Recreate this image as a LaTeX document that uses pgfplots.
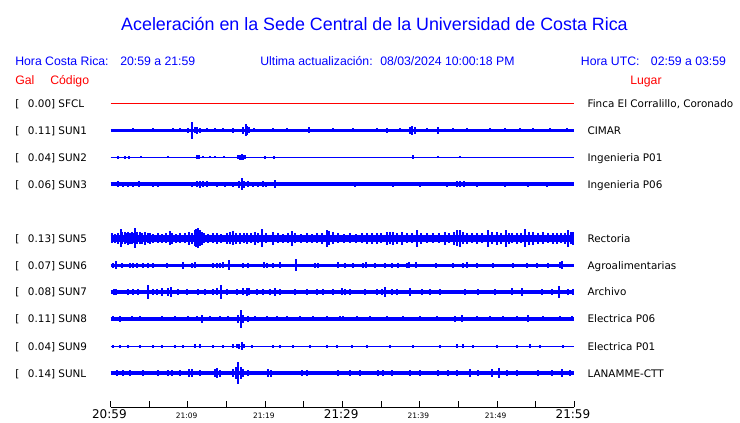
\documentclass[border=0pt]{standalone}
\usepackage{pgfplots}
\pgfplotsset{compat=1.18}
\usepackage{fontspec}
\setmainfont{Liberation Sans}
\newfontfamily\dejavu{DejaVu Sans}
\definecolor{tblue}{RGB}{0,0,255}
\definecolor{tred}{RGB}{255,0,0}
\pgfplotsset{
  spk/.style n args={2}{draw=none, error bars/.cd, y dir=both, y explicit, error mark=none,
     error bar style={draw=tblue, line width=#2}},
}
\newcommand{\hdr}{\fontsize{9.2}{10}\selectfont}
\newcommand{\stn}{\dejavu\fontsize{7.8}{9}\selectfont}
\begin{document}
\begin{tikzpicture}
\useasboundingbox (0,0) rectangle (555pt,-317.25pt);
% ---------------- traces ----------------
\begin{axis}[at={(83.025pt,-67.5pt)}, anchor=north west, scale only axis,
  width=347.7pt, height=237.75pt, xmin=0, xmax=60, ymin=90, ymax=407,
  y dir=reverse, hide axis, clip=false]
% SFCL
\addplot[tred, line width=0.75pt] coordinates {(0,103.3) (60,103.3)};
% SUN1
\addplot[tblue, line width=2.25pt] coordinates {(0,130.3) (60,130.3)};
\addplot[spk={}{1.5pt}] table[x=t, y expr=130.3, y error=e] {
t e
2.93 2
5.52 2
8.02 2
8.97 2
10.05 2.5
10.57 8.5
10.91 3
11.21 3.5
11.56 2.5
12.42 2
13.5 2
14.58 2
15.79 2.5
17.17 3.5
17.47 5.8
17.68 4.5
17.94 3
18.59 2
21.05 2
22.77 2
25.7 3
28.8 2
31.4 2
34.42 2
35.71 2.5
37.44 2
38.73 3.5
39.04 4.5
39.38 3.5
40.89 2
42.31 3.5
44.34 2
46.07 2
49.09 2
51.03 2
52.97 2
54.7 2
56.85 2
59.01 2
};
% SUN2
\addplot[tblue, line width=1.1pt] coordinates {(0,157.3) (60,157.3)};
\addplot[spk={}{1.4pt}] table[x=t, y expr=157.3, y error=e] {
t e
0.99 1.5
1.85 1.5
2.41 1.5
3.92 1.2
7.37 1.2
11.13 2
11.47 2
11.99 1.2
12.85 1.2
13.5 1.2
14.66 1.2
16.52 2
16.73 2.5
16.95 3.2
17.17 2.5
17.38 1.8
19.97 1.5
21.13 1.5
39.17 2
42.4 1.2
45.2 1.2
};
% SUN3
\addplot[tblue, line width=2.8pt] coordinates {(0,184.3) (60,184.3)};
\addplot[spk={}{1.5pt}] table[x=t, y expr=184.3, y error=e] {
t e
0.99 3
1.63 2.5
2.28 2.5
2.93 2.5
3.7 3
5.52 2.5
6.17 2.5
10.48 2.5
11.13 3
11.56 3.5
11.99 3
12.42 3
13.71 2.5
14.79 2.5
15.87 2.5
16.65 3.5
16.95 6
17.25 3.5
17.81 3
18.46 2.5
19.1 2.5
19.75 3
20.05 2.5
21.26 4
31.62 2.5
36.58 2.5
40.03 2.5
43.48 2.5
44.77 3
45.2 3
45.72 3
47.36 2.5
51.03 2.5
54.05 2.5
56.42 2.5
};
% SUN5 Rectoria
\addplot[tblue, line width=5.6pt] coordinates {(0,238.3) (60,238.3)};
\addplot[spk={}{1.5pt}] table[x=t, y expr=238.3, y error=e] {
t e
0.2 5
0.6 4.5
1.0 5.5
1.33 9
1.5 6
1.85 6
2.1 5
2.28 6.5
2.5 5.5
2.71 6
3.0 5
3.19 10
3.4 6
3.79 6
4.1 5.5
4.44 6.5
4.8 5
5.09 5.5
5.5 4.5
6.17 5
6.6 4.5
7.2 5
7.67 7
7.9 5.5
8.5 4.5
8.97 5
9.6 5
10.18 6.5
10.5 5.5
10.91 8
11.1 9
11.34 10
11.5 8
11.77 6.5
12.1 5
12.6 4.5
13.2 5
13.71 5.5
14.3 4.5
15.01 5.5
15.5 6
15.87 7
16.2 5.5
16.73 5.5
17.2 5
17.6 5.5
18.1 5
18.67 6.5
19.1 5
19.62 9
20.1 5
21.05 6.5
21.6 5
22.3 4.5
23.0 5
23.42 7.5
23.8 5
24.6 4.5
25.36 5
26.0 4.5
26.66 5
27.4 5.5
27.95 8.5
28.3 7
28.81 6
29.4 5
30.2 4.5
30.97 5
31.8 4.5
32.5 5
33.13 5.5
33.8 5.5
34.42 5.5
35.0 5
35.71 6.5
36.1 6
36.58 6.5
37.1 5.5
37.66 6.5
38.3 5
39.0 5
39.69 8.5
40.2 5.5
41.0 5
41.75 5
42.5 5
43.26 6.5
43.8 5
44.4 6.5
44.77 8
45.2 8.5
45.6 6
46.07 5.5
46.7 5
47.36 5.5
48.1 5
48.79 8.5
49.3 6
49.95 6.5
50.5 5.5
51.1 8.5
51.6 5.5
52.0 5
52.54 5.5
53.1 5
53.62 9
54.1 6.5
54.7 6.5
55.3 5.5
55.99 6
56.6 5
57.2 5.5
57.72 5.5
58.3 5
58.8 5.5
59.23 8.5
59.6 6
59.87 6.5
};
% SUN6
\addplot[tblue, line width=2.55pt] coordinates {(0,265.3) (60,265.3)};
\addplot[spk={}{1.5pt}] table[x=t, y expr=265.3, y error=e] {
t e
0.34 2.5
0.69 4
1.42 2.5
2.5 2.5
2.93 2.5
3.45 2.5
4.14 2.5
4.78 2.5
5.43 2.5
7.24 2.5
9.4 3.5
10.48 2.5
10.91 3
13.28 2.5
13.71 2.5
14.14 2.5
14.49 3
15.31 5
17.17 2.5
17.81 2.5
19.84 3
20.18 2.5
21.05 2.5
21.91 3
23.98 6
26.44 2.5
26.87 2.5
29.46 3
30.32 2.5
31.4 2.5
32.69 2.5
33.04 3
34.2 2.5
35.5 2.5
36.36 2.5
37.22 2.5
38.3 2.5
38.65 3
39.51 3
42.1 2.5
44.34 2.5
45.64 2.5
46.07 3
47.36 2.5
49.52 2.5
52.02 2.5
53.83 2.5
55.13 2.5
56.64 2.5
58.15 3
58.45 4
};
% SUN7
\addplot[tblue, line width=3pt] coordinates {(0,292) (60,292)};
\addplot[spk={}{1.5pt}] table[x=t, y expr=292, y error=e] {
t e
0.47 3
0.69 3
2.28 3
2.93 3
3.58 3
4.87 7
5.52 3
5.95 3
6.6 4
7.46 4
7.76 5
8.75 3
9.83 3
11.34 3
12.2 3
13.28 3
13.71 3.5
14.23 7
15.01 3
16.3 3
17.17 3.5
17.6 4
17.94 3.5
18.89 3
19.75 3
20.61 3
21.26 4
21.91 3
23.85 3
25.36 3
26.66 3
27.52 3
28.81 3
29.89 3.5
30.32 3
30.97 3
32.91 3
34.42 3
35.07 3
35.5 5
36.36 3
37.01 3
38.73 4
40.24 3
41.32 3
42.62 3
45.85 3
47.58 3
49.73 3
51.89 3.5
53.19 4
55.77 3
57.07 3
58.06 6
59.22 3
59.87 3
};
% SUN8
\addplot[tblue, line width=2.7pt] coordinates {(0,319) (60,319)};
\addplot[spk={}{1.5pt}] table[x=t, y expr=319, y error=e] {
t e
0.34 2.5
1.2 3
2.71 2.5
3.79 2.5
6.6 2.5
8.32 2.5
10.05 2.5
11.13 2.5
11.77 4
12.85 2.5
14.14 2.5
15.22 2.5
16.52 4
16.86 9
17.17 4
17.81 3
18.67 2.5
20.18 2.5
21.48 2.5
22.77 2.5
24.5 2.5
26.23 2.5
27.95 2.5
29.68 2.5
30.11 2.5
31.83 2.5
33.56 2.5
35.71 2.5
37.87 2.5
40.03 2.5
42.19 2.5
44.56 3
45.42 3.5
47.36 2.5
49.09 2.5
50.81 2.5
52.54 2.5
54.05 3.5
55.99 2.5
58.15 2.5
59.66 2.5
};
% SUN9
\addplot[tblue, line width=1.1pt] coordinates {(0,346.3) (60,346.3)};
\addplot[spk={}{1.4pt}] table[x=t, y expr=346.3, y error=e] {
t e
0.34 1.5
1.2 1.5
2.28 1.5
3.79 1.5
5.52 1.5
6.6 1.5
8.32 1.5
9.4 1.5
10.91 1.8
11.56 1.8
13.28 1.5
14.58 1.5
15.87 2
16.3 2
16.65 2.5
16.95 4
17.25 2
18.24 1.5
21.05 1.5
21.91 1.5
23.63 1.5
25.79 1.5
27.95 1.5
29.24 1.5
31.18 1.5
33.13 1.5
36.15 1.5
39.17 1.5
42.62 1.5
44.77 1.8
45.64 1.8
46.93 1.5
49.95 1.5
52.54 1.5
54.26 1.8
55.56 1.5
58.58 1.5
};
% SUNL
\addplot[tblue, line width=3.1pt] coordinates {(0,373.3) (60,373.3)};
\addplot[spk={}{1.5pt}] table[x=t, y expr=373.3, y error=e] {
t e
0.77 3
1.63 3
2.5 3
4.22 3
6.17 3
7.46 3
7.89 3
8.97 3
10.18 4
10.48 4
11.56 3
13.5 4
13.71 5
14.14 3.5
15.87 4
16.22 6
16.52 11
16.82 6
17.17 4
17.81 3
20.4 4
20.7 3.5
24.72 3
25.36 3
29.46 3
30.97 3
32.26 3
34.63 3
35.28 3
36.36 3
38.73 3
40.03 3
42.4 3
43.7 3
44.77 3
46.5 4
47.58 3
49.3 4
50.3 5
51.24 3
52.54 3
55.34 3
57.07 3
58.36 4
59.44 3
};
\end{axis}
% ---------------- time scale ----------------
\begin{axis}[at={(83.025pt,-305.5pt)}, anchor=south west, scale only axis,
  width=347.7pt, height=10pt, xmin=0, xmax=60, ymin=0, ymax=1,
  axis x line*=bottom, axis y line=none,
  axis line style={black, line width=0.75pt},
  xtick={0,5,...,60}, tick align=inside, major tick length=4.95pt,
  tick style={black, line width=0.75pt},
  xticklabels={{\fontsize{9}{10}\selectfont 20:59},{},{\fontsize{5.6}{6}\selectfont 21:09},{},{\fontsize{5.6}{6}\selectfont 21:19},{},{\fontsize{9}{10}\selectfont 21:29},{},{\fontsize{5.6}{6}\selectfont 21:39},{},{\fontsize{5.6}{6}\selectfont 21:49},{},{\fontsize{9}{10}\selectfont 21:59}},
  xticklabel style={font=\dejavu, anchor=base, inner sep=0pt, yshift=-8.6pt, xshift=-1pt},
]
\addplot[draw=none] coordinates {(0,0) (60,0)};
\end{axis}
% ---------------- texts ----------------
\begin{scope}[x=0.75pt, y=-0.75pt]
\node[anchor=base, text=tblue, inner sep=0pt, font=\fontsize{13.4}{15}\selectfont] at (374.5,30.8) {Aceleración en la Sede Central de la Universidad de Costa Rica};
\begin{scope}[every node/.style={anchor=base west, inner sep=0pt, font=\hdr}]
\node[text=tblue] at (15,66) {Hora Costa Rica:};
\node[text=tblue] at (120,66) {20:59 a 21:59};
\node[text=tblue] at (260,66) {Ultima actualización:};
\node[text=tblue] at (380,66) {08/03/2024 10:00:18 PM};
\node[text=tblue] at (580.7,66) {Hora UTC:};
\node[text=tblue] at (650.7,66) {02:59 a 03:59};
\node[text=tred] at (15,85) {Gal};
\node[text=tred] at (50,85) {Código};
\node[text=tred] at (630,85) {Lugar};
\end{scope}
\begin{scope}[every node/.style={anchor=base west, inner sep=0pt, font=\stn}]
\foreach \yy/\val/\code/\lugar in {103.3/0.00/SFCL/{Finca El Corralillo, Coronado},130.3/0.11/SUN1/CIMAR,157.3/0.04/SUN2/Ingenieria P01,184.3/0.06/SUN3/Ingenieria P06,238.3/0.13/SUN5/Rectoria,265.3/0.07/SUN6/Agroalimentarias,292/0.08/SUN7/Archivo,319/0.11/SUN8/Electrica P06,346.3/0.04/SUN9/Electrica P01,373.3/0.14/SUNL/LANAMME-CTT}{
  \node at (15,\yy+4) {[};
  \node at (27.7,\yy+4) {\val] \code};
  \node at (587.3,\yy+4) {\lugar};
}
\end{scope}
\end{scope}
\end{tikzpicture}
\end{document}
